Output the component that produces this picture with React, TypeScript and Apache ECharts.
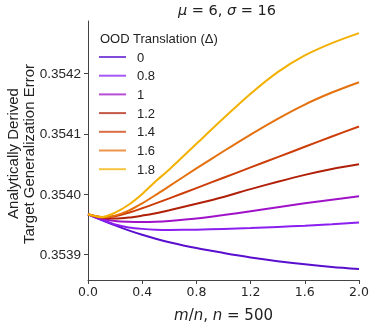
import React, { useEffect, useRef } from "react";
import * as echarts from "echarts";

const xs = [0, 0.1, 0.2, 0.3, 0.4, 0.5, 0.6, 0.8, 1.0, 1.2, 1.4, 1.6, 1.8, 2.0];

const names = ["0", "0.8", "1", "1.2", "1.4", "1.6", "1.8"];

const d0 = [0.3539668, 0.3539573, 0.3539484, 0.3539402, 0.3539329, 0.3539264, 0.3539207, 0.3539109, 0.3539028, 0.3538954, 0.3538892, 0.353884, 0.3538796, 0.3538762];
const d08 = [0.3539668, 0.3539581, 0.35395, 0.3539451, 0.3539427, 0.3539414, 0.353941, 0.3539414, 0.3539427, 0.353944, 0.3539459, 0.3539479, 0.3539505, 0.3539533];
const d1 = [0.3539668, 0.3539598, 0.3539557, 0.3539544, 0.3539541, 0.3539546, 0.3539559, 0.3539598, 0.3539655, 0.353972, 0.3539785, 0.353985, 0.353991, 0.3539967];
const d12 = [0.3539668, 0.3539614, 0.3539598, 0.3539614, 0.3539647, 0.3539687, 0.3539736, 0.3539842, 0.3539956, 0.3540086, 0.3540208, 0.3540322, 0.354042, 0.3540498];
const d14 = [0.3539668, 0.3539622, 0.3539638, 0.3539695, 0.3539769, 0.353985, 0.3539932, 0.3540103, 0.3540274, 0.3540445, 0.3540616, 0.3540787, 0.3540958, 0.3541124];
const d16 = [0.3539668, 0.3539617, 0.3539647, 0.3539728, 0.353985, 0.3539989, 0.3540135, 0.3540428, 0.3540713, 0.354099, 0.3541251, 0.3541487, 0.3541686, 0.3541857];
const d18 = [0.3539668, 0.3539622, 0.3539695, 0.3539826, 0.3540005, 0.3540217, 0.3540412, 0.3540836, 0.3541259, 0.3541666, 0.3542024, 0.3542301, 0.3542505, 0.3542671];

const seriesData = [d0, d08, d1, d12, d14, d16, d18];
const colors = ["#5a0fcf", "#8a1ff0", "#a012c8", "#b02008", "#cc3d08", "#e4700e", "#f2b000"];

const yTicks = [0.3539, 0.354, 0.3541, 0.3542];

export default function App() {
  const ref = useRef<HTMLDivElement>(null);
  useEffect(() => {
    const chart = echarts.init(ref.current!, null, { renderer: "svg" });
    const sans = "Liberation Sans, Arial, sans-serif";
    const dv = "DejaVu Sans, sans-serif";
    chart.setOption({
      animation: false,
      title: {
        text: "{i|μ} = 6, {i|σ} = 16",
        left: 222,
        top: 0,
        padding: [2, 5, 2, 5],
        textAlign: "center",
        textStyle: {
          fontFamily: dv,
          fontSize: 14.5,
          fontWeight: "normal",
          color: "#222",
          rich: { i: { fontFamily: dv, fontSize: 14.5, fontStyle: "italic", color: "#222" } },
        },
      },
      grid: { left: 88, right: 15, top: 21, bottom: 42.5 },
      legend: {
        orient: "vertical",
        left: 99,
        top: 50,
        padding: 0,
        itemWidth: 27,
        itemHeight: 2,
        itemGap: 4.7,
        icon: "rect",
        itemStyle: { opacity: 0.75 },
        textStyle: { fontFamily: sans, fontSize: 13, color: "#222", lineHeight: 14, padding: [0, 0, 0, 6] },
        data: names,
      },
      xAxis: {
        type: "value",
        min: 0,
        max: 2,
        interval: 0.4,
        name: "{i|m}/{i|n}, {i|n} = 500",
        nameLocation: "middle",
        nameGap: 27,
        nameTextStyle: {
          fontFamily: dv,
          fontSize: 15,
          color: "#222",
          rich: { i: { fontFamily: dv, fontSize: 15, fontStyle: "italic", color: "#222" } },
        },
        axisLine: { lineStyle: { color: "#444", width: 1 } },
        axisTick: { show: true, length: 4, lineStyle: { color: "#444" } },
        axisLabel: { fontFamily: dv, fontSize: 12.5, color: "#262626", margin: 5, formatter: (v: number) => v.toFixed(1) },
        splitLine: { show: false },
      },
      yAxis: {
        type: "value",
        min: 0.353858,
        max: 0.3542871,
        axisLine: { show: true, lineStyle: { color: "#444", width: 1 } },
        axisTick: { show: true, length: 4, lineStyle: { color: "#444" }, customValues: yTicks },
        axisLabel: {
          fontFamily: sans,
          fontSize: 13.5,
          color: "#262626",
          margin: 7,
          customValues: yTicks,
          formatter: (v: number) => v.toFixed(4),
        },
        splitLine: { show: false },
      },
      graphic: [
        {
          type: "text",
          x: 100,
          y: 38,
          style: { text: "OOD Translation (Δ)", fontFamily: sans, fontSize: 13, fill: "#222", align: "left", verticalAlign: "middle" },
        },
        {
          type: "text",
          x: 12.5,
          y: 153.5,
          rotation: Math.PI / 2,
          style: { text: "Analytically Derived", fontFamily: sans, fontSize: 15, fill: "#222", align: "center", verticalAlign: "middle" },
        },
        {
          type: "text",
          x: 28,
          y: 154,
          rotation: Math.PI / 2,
          style: { text: "Target Generalization Error", fontFamily: sans, fontSize: 15, fill: "#222", align: "center", verticalAlign: "middle" },
        },
      ],
      series: names.map((n, i) => ({
        name: n,
        type: "line",
        showSymbol: false,
        smooth: 0.3,
        color: colors[i],
        lineStyle: { width: 2, color: colors[i] },
        data: xs.map((x, j) => [x, seriesData[i][j]]),
      })),
    });
    return () => chart.dispose();
  }, []);
  return <div ref={ref} style={{ position: "fixed", left: 0, top: 0, width: 374, height: 327 }} />;
}
